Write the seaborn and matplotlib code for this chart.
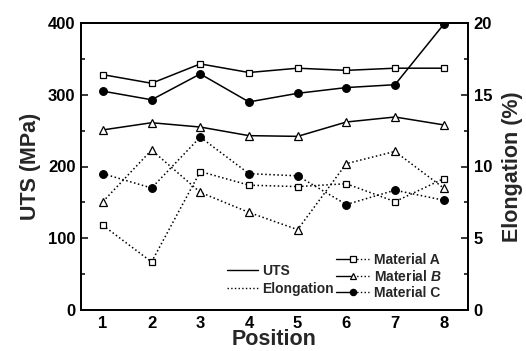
import matplotlib
matplotlib.use("Agg")
import matplotlib.pyplot as plt
import seaborn as sns
import pandas as pd
from matplotlib.lines import Line2D
from matplotlib.legend_handler import HandlerBase
from matplotlib.ticker import MultipleLocator

positions = [1, 2, 3, 4, 5, 6, 7, 8]
materials = ["Material A", "Material B", "Material C"]
uts_a = [328, 316, 343, 331, 337, 334, 337, 337]
uts_b = [251, 261, 255, 243, 242, 262, 269, 258]
uts_c = [305, 293, 329, 290, 302, 310, 314, 398]
elong_a = [5.9, 3.35, 9.65, 8.7, 8.6, 8.8, 7.55, 9.15]
elong_b = [7.55, 11.15, 8.2, 6.8, 5.6, 10.2, 11.05, 8.5]
elong_c = [9.5, 8.5, 12.05, 9.5, 9.35, 7.35, 8.35, 7.65]

sns.set_style("white")
plt.rcParams["font.family"] = ["Liberation Sans", "DejaVu Sans"]
plt.rcParams["font.weight"] = "bold"
plt.rcParams["mathtext.fontset"] = "custom"
plt.rcParams["mathtext.rm"] = "Liberation Sans:bold"
plt.rcParams["mathtext.bf"] = "Liberation Sans:bold"
plt.rcParams["mathtext.it"] = "Liberation Sans:italic:bold"
plt.rcParams["mathtext.bfit"] = "Liberation Sans:italic:bold"

fig = plt.figure(figsize=(5.26, 3.51), dpi=100)
ax = fig.add_axes([81/526, 1 - 310/351, (468-81)/526, (310-23)/351])
ax2 = ax.twinx()

styles = {
    "Material A": dict(marker="s", mfc="white", ms=5),
    "Material B": dict(marker="^", mfc="white", ms=6),
    "Material C": dict(marker="o", mfc="black", ms=5.5),
}
uts = {"Material A": uts_a, "Material B": uts_b, "Material C": uts_c}
elong = {"Material A": elong_a, "Material B": elong_b, "Material C": elong_c}

for m in materials:
    st = styles[m]
    d1 = pd.DataFrame({"Position": positions, "UTS": uts[m]})
    sns.lineplot(data=d1, x="Position", y="UTS", ax=ax, color="black", lw=1.1,
                 marker=st["marker"], markerfacecolor=st["mfc"], markeredgecolor="black",
                 markeredgewidth=0.9, markersize=st["ms"], linestyle="-")
    d2 = pd.DataFrame({"Position": positions, "Elong": elong[m]})
    sns.lineplot(data=d2, x="Position", y="Elong", ax=ax2, color="black", lw=1.1,
                 marker=st["marker"], markerfacecolor=st["mfc"], markeredgecolor="black",
                 markeredgewidth=0.9, markersize=st["ms"], linestyle=":")

ax.set_xlim(0.55, 8.5)
ax.set_ylim(0, 400)
ax2.set_ylim(0, 20)
ax.set_xticks(positions)
ax.yaxis.set_major_locator(MultipleLocator(100))
ax.yaxis.set_minor_locator(MultipleLocator(50))
ax2.yaxis.set_major_locator(MultipleLocator(5))
ax2.yaxis.set_minor_locator(MultipleLocator(2.5))

for a in (ax, ax2):
    for s in a.spines.values():
        s.set_linewidth(1.3)
        s.set_color("black")
ax.tick_params(axis="both", which="both", direction="in", labelsize=12, width=1.1, colors="black")
ax.tick_params(axis="both", which="major", length=5)
ax.tick_params(axis="y", which="minor", length=3)
ax.tick_params(axis="x", which="both", top=False, pad=4)
ax.tick_params(axis="y", pad=4)
ax2.tick_params(axis="y", which="both", direction="in", labelsize=12, width=1.1, colors="black", pad=4)
ax2.tick_params(axis="y", which="major", length=5)
ax2.tick_params(axis="y", which="minor", length=3)
for lab in ax.get_xticklabels() + ax.get_yticklabels() + ax2.get_yticklabels():
    lab.set_fontweight("bold")

ax.set_xlabel("Position", fontsize=15.5, fontweight="bold", labelpad=-1)
ax.set_ylabel("UTS (MPa)", fontsize=15.5, fontweight="bold", labelpad=5)
ax2.set_ylabel("Elongation (%)", fontsize=15.5, fontweight="bold", labelpad=7)


class HalfSolidHalfDotted(HandlerBase):
    def __init__(self, style, **kw):
        super().__init__(**kw)
        self.style = style

    def create_artists(self, legend, orig_handle, xdescent, ydescent, width, height, fontsize, trans):
        y = height / 2 - ydescent
        x0 = -xdescent
        xm = x0 + width / 2
        l1 = Line2D([x0, xm], [y, y], color="black", lw=1.0, ls="-", transform=trans)
        l2 = Line2D([xm, x0 + width], [y, y], color="black", lw=1.0, ls=":", transform=trans)
        mk = Line2D([xm], [y], ls="none", marker=self.style["marker"], mfc=self.style["mfc"],
                    mec="black", mew=0.9, ms=self.style["ms"] - 1, transform=trans)
        return [l1, l2, mk]


h1 = [Line2D([], [], color="black", lw=1.0, ls="-"),
      Line2D([], [], color="black", lw=1.0, ls=":")]
leg1 = ax.legend(h1, ["UTS", "Elongation"], loc="lower left",
                 bbox_to_anchor=(0.345, 0.005), frameon=False, fontsize=10,
                 handlelength=2.2, handletextpad=0.35, labelspacing=0.3)
for t in leg1.get_texts():
    t.set_fontweight("bold")
ax.add_artist(leg1)

h2 = [Line2D([], [], color="black") for m in materials]
hmap = {h: HalfSolidHalfDotted(styles[m]) for h, m in zip(h2, materials)}
leg2 = ax.legend(h2, ["Material A", "Material $\\mathit{B}$", "Material C"], loc="lower left",
                 bbox_to_anchor=(0.627, -0.008), frameon=False, fontsize=10,
                 handlelength=2.4, handletextpad=0.3, labelspacing=0.15, handler_map=hmap)
for t in leg2.get_texts():
    t.set_fontweight("bold")

fig.savefig("out.png", dpi=100)
